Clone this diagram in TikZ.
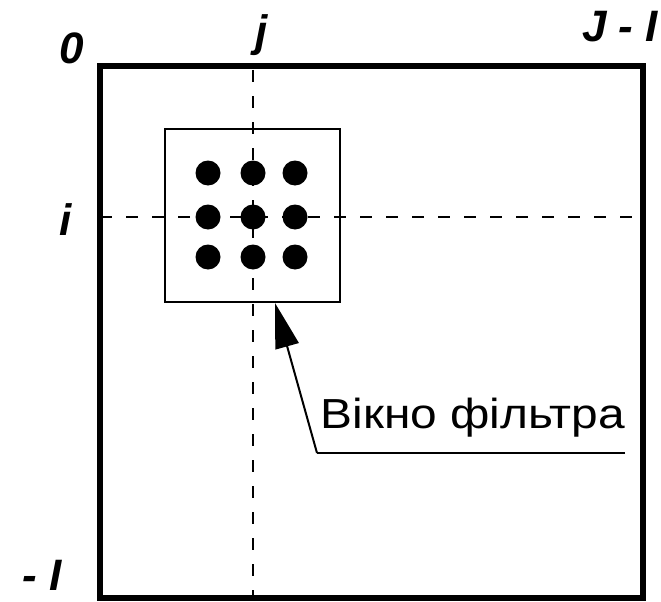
\documentclass[tikz,border=0pt]{standalone}
\usepackage{fontspec}
\setmainfont{Liberation Sans}
\usetikzlibrary{arrows.meta}
\begin{document}
\begin{tikzpicture}[x=1pt, y=-1pt,
    axislabel/.style={font=\fontsize{44}{48}\selectfont\bfseries\itshape, inner sep=0pt},
    guide/.style={line width=2pt, dash pattern=on 12pt off 14pt}]
    \useasboundingbox (0,0) rectangle (661,602);
    \clip (0,0) rectangle (661,602);

        % Draw guide lines through the window centre
    \draw[guide] (253,70) -- (253,598);
    \draw[guide] (100,217) -- (643,217);

        % Draw image frame
    \draw[line width=6pt] (100,598) -- (100,66) -- (643,66) -- (643,598) -- cycle;

        % Draw filter window
    \node[draw, line width=2pt, minimum width=175pt, minimum height=173pt, inner sep=0pt] (win) at (252.5,215.5) {};
    \foreach \x in {208,253,295}
      \foreach \y in {173,217,257}
        \fill (\x,\y) circle (12.5pt);

        % Add labels
    \node[axislabel] (zero) at (72,48) {0};
    \node[axislabel, anchor=base] (jcol) at (262,47) {j};
    \node[axislabel, anchor=north east] (jlast) at (658,11) {J - I};
    \node[axislabel] (irow) at (66,220) {i};
    \node[axislabel, anchor=base east] (ilast) at (62,590) {- I};

        % Add window caption with leader line
    \node[font=\fontsize{42}{48}\selectfont, anchor=base east, inner sep=0pt] (caption) at (625,428) {\scalebox{1.14}[1]{Вікно фільтра}};
    \coordinate (bend) at (317,453);
    \draw[line width=2pt] (caption.east |- bend) -- (bend);
    \draw[line width=2pt, -{Triangle[length=45pt, width=24pt]}] (bend) -- (win.south -| 275,0);
\end{tikzpicture}
\end{document}
